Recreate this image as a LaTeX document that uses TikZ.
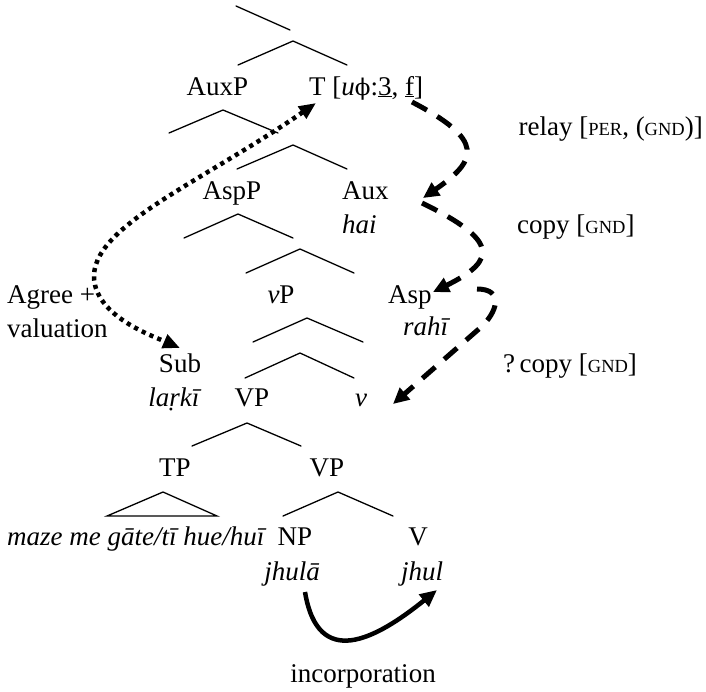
\documentclass[tikz,border=0pt]{standalone}
\usepackage{fontspec}
\setmainfont{Liberation Serif}
\newfontfamily\grk{DejaVu Serif}
\usetikzlibrary{arrows.meta}
\newcommand\fsc[1]{{\fontsize{18.5}{18.5}\selectfont #1}}
\begin{document}
\begin{tikzpicture}[x=1pt,y=-1pt,
  lbl/.style={inner sep=0pt, anchor=base, font=\fontsize{27}{31}\selectfont},
  lblw/.style={lbl, anchor=base west},
  lble/.style={lbl, anchor=base east},
  branch/.style={line width=1.3pt, line cap=round},
  dotarrow/.style={line width=4.5pt, dash pattern=on 4.2pt off 4.3pt, {Triangle[length=17pt,width=14pt]}-{Triangle[length=17pt,width=14pt]}},
  dasharrow/.style={line width=5pt, dash pattern=on 17pt off 12pt, -{Triangle[length=16pt,width=15pt]}},
  solidarrow/.style={line width=4.5pt, -{Triangle[length=17pt,width=15pt]}}
]
\useasboundingbox (0,0) rectangle (706,691);
\fill[white] (0,0) rectangle (706,691);

% tree coordinates
\coordinate (l0a) at (236,6);   \coordinate (l0b) at (290,30);
\coordinate (b1a) at (293,41);  \coordinate (b1l) at (238,65);  \coordinate (b1r) at (347,65);
\coordinate (b2a) at (223,110); \coordinate (b2l) at (169,133); \coordinate (b2r) at (278,133);
\coordinate (b3a) at (293,145); \coordinate (b3l) at (237,169); \coordinate (b3r) at (347,169);
\coordinate (b4a) at (238,214); \coordinate (b4l) at (184,238); \coordinate (b4r) at (293,238);
\coordinate (b5a) at (300,249); \coordinate (b5l) at (246,273); \coordinate (b5r) at (354,273);
\coordinate (b6a) at (307,318); \coordinate (b6l) at (253,342); \coordinate (b6r) at (363,342);
\coordinate (b7a) at (300,353); \coordinate (b7l) at (245,378); \coordinate (b7r) at (354,378);
\coordinate (b8a) at (247,423); \coordinate (b8l) at (192,446); \coordinate (b8r) at (301,446);
\coordinate (tra) at (163,492); \coordinate (trl) at (107,516); \coordinate (trr) at (217,516);
\coordinate (b9a) at (338,492); \coordinate (b9l) at (283,516); \coordinate (b9r) at (393,516);

\draw[branch] (l0a) -- (l0b);
\foreach \b in {b1,b2,b3,b4,b5,b6,b7,b8,b9}{
  \draw[branch] (\b l) -- (\b a) -- (\b r);
}
\draw[branch] (trl) -- (tra) -- (trr) -- cycle;

% labels
\node[lbl] (auxp) at (217.5,95) {AuxP};
\node[lblw] (T) at (309,95) {T [\textit{u}{\grk\fontsize{23}{23}\selectfont ϕ}:\underline{3}, \underline{f}]};
\node[lbl] (aspp) at (232,199) {AspP};
\node[lblw] (aux) at (342,199) {Aux};
\node[lblw] (hai) at (342,233) {\textit{hai}};
\node[lbl] (vp) at (281,303) {\textit{v}P};
\node[lblw] (asp) at (388,303) {Asp};
\node[lblw] (rahi) at (403,335) {\textit{rahī}};
\node[lblw] (agree) at (7,303) {Agree +};
\node[lblw] (valuation) at (7,337) {valuation};
\node[lbl] (sub) at (180,372) {Sub};
\node[lbl] (larki) at (175,406) {\textit{laṛkī}};
\node[lbl] (vp1) at (252,406) {VP};
\node[lbl] (v) at (361,406) {\textit{v}};
\node[lbl] (tp) at (175,476) {TP};
\node[lbl] (vp2) at (327,476) {VP};
\node[lblw] (maze) at (7,545) {\textit{maze me gāte/tī hue/huī}};
\node[lbl] (np) at (295,545) {NP};
\node[lbl] (V) at (418,545) {V};
\node[lbl] (jhula) at (292,580) {\textit{jhulā}};
\node[lbl] (jhul) at (422,580) {\textit{jhul}};
\node[lbl] (inc) at (363,682) {incorporation};
\node[lble] (relay) at (703,135) {relay [\fsc{PER}, (\fsc{GND})]};
\node[lblw] (copy1) at (517,233) {copy [\fsc{GND}]};
\node[lblw] (copy2) at (503,372) {?\,copy [\fsc{GND}]};

% arrow end points
\coordinate (dotT) at (316,103);
\coordinate (dotM) at (95,285);
\coordinate (dotS) at (180,348);
\coordinate (d1s) at (412,102);  \coordinate (d1e) at (423,198);
\coordinate (d2s) at (422,203);  \coordinate (d2e) at (433,292);
\coordinate (d3s) at (477,289);  \coordinate (d3m) at (480,328); \coordinate (d3e) at (393,404);
\coordinate (incs) at (305,592); \coordinate (ince) at (437,590);

\draw[dotarrow] (dotT) .. controls (196,186) and (82,230) .. (dotM)
                       .. controls (103,318) and (150,335) .. (dotS);
\draw[dasharrow] (d1s) .. controls (485,140) and (478,160) .. (d1e);
\draw[dasharrow] (d2s) .. controls (498,240) and (498,260) .. (d2e);
\draw[dasharrow] (d3s) .. controls (505,289) and (497,313) .. (d3m) -- (d3e);
\draw[solidarrow] (incs) .. controls (318,670) and (375,640) .. (ince);
\end{tikzpicture}
\end{document}
